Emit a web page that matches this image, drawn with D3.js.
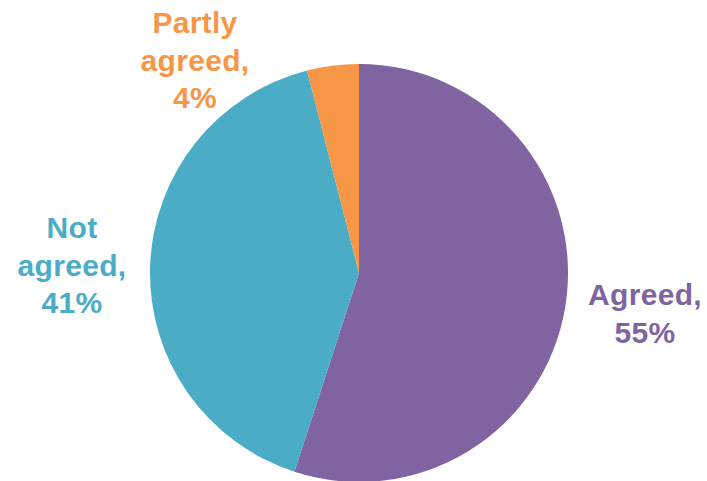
<!DOCTYPE html>
<html>
<head>
<meta charset="utf-8">
<script src="https://cdn.jsdelivr.net/npm/d3@7"></script>
<style>
  body { margin: 0; background: #fff; }
  text { font-family: "Liberation Sans", Arial, sans-serif; font-weight: bold; }
</style>
</head>
<body>
<div id="chart"></div>
<script>
var categories = ['Agreed', 'Not agreed', 'Partly agreed'];
var values = [55, 41, 4];
var colors = ['#8064A2', '#4BACC6', '#F79646'];
// label lines as drawn in the picture
var labelLines = [['Agreed,', '55%'], ['Not', 'agreed,', '41%'], ['Partly', 'agreed,', '4%']];
var labelPos = [[645, 305], [72, 238], [195, 33]];

var width = 707, height = 481;
var cx = 359, cy = 273, radius = 209;

var svg = d3.select('#chart').append('svg')
  .attr('width', width).attr('height', height);

var data = categories.map(function (c, i) { return { name: c, value: values[i], color: colors[i] }; });

var pie = d3.pie().sort(null).value(function (d) { return d.value; });
var arc = d3.arc().innerRadius(0).outerRadius(radius);

svg.append('g')
  .attr('transform', 'translate(' + cx + ',' + cy + ')')
  .selectAll('path')
  .data(pie(data))
  .enter().append('path')
  .attr('d', arc)
  .style('fill', function (d) { return d.data.color; });

var labels = svg.append('g').classed('labels', true);
data.forEach(function (d, i) {
  var t = labels.append('text')
    .attr('x', labelPos[i][0]).attr('y', labelPos[i][1])
    .attr('text-anchor', 'middle')
    .style('font-size', '30px')
    .style('letter-spacing', '0.3px')
    .style('fill', d.color);
  labelLines[i].forEach(function (line, j) {
    t.append('tspan').attr('x', labelPos[i][0]).attr('y', labelPos[i][1] + j * 37.5).text(line);
  });
});
</script>
</body>
</html>
